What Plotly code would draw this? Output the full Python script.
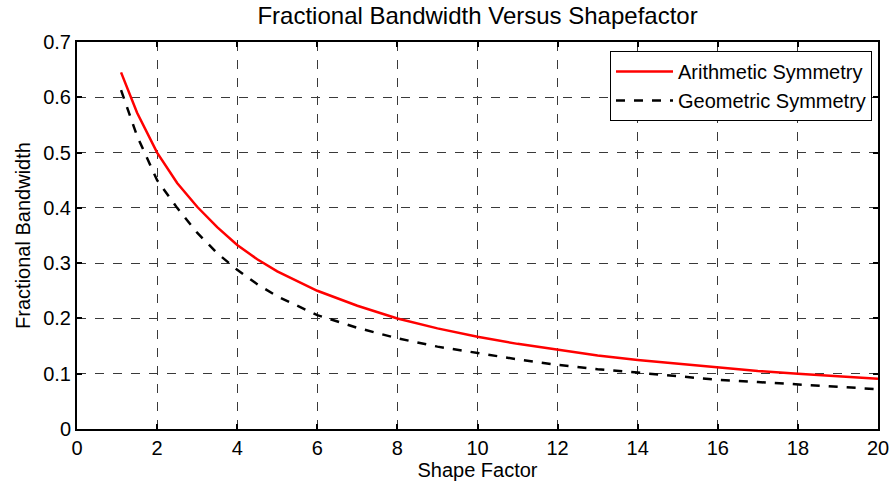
import plotly.graph_objects as go

shape_factor = [1.1, 1.5, 2, 2.5, 3, 3.5, 4, 4.5, 5, 6, 7, 8, 9, 10, 11, 12, 13, 14, 15, 16, 17, 18, 19, 20]
arithmetic = [0.645, 0.572, 0.500, 0.445, 0.402, 0.365, 0.333, 0.307, 0.285, 0.250, 0.223, 0.200, 0.182,
              0.167, 0.154, 0.143, 0.133, 0.125, 0.118, 0.111, 0.105, 0.100, 0.095, 0.091]
geometric = [0.613, 0.530, 0.450, 0.400, 0.355, 0.318, 0.288, 0.262, 0.240, 0.206, 0.183, 0.164, 0.149,
             0.137, 0.126, 0.116, 0.108, 0.102, 0.095, 0.089, 0.085, 0.081, 0.076, 0.072]

x_ticks = list(range(0, 21, 2))
y_ticks = [0, 0.1, 0.2, 0.3, 0.4, 0.5, 0.6, 0.7]
y_tick_text = ["0", "0.1", "0.2", "0.3", "0.4", "0.5", "0.6", "0.7"]

FONT = "Liberation Sans, Arial, sans-serif"

fig = go.Figure()
fig.add_trace(go.Scatter(x=shape_factor, y=arithmetic, mode="lines", name="Arithmetic Symmetry",
                         line=dict(color="#ff0000", width=2.5)))
fig.add_trace(go.Scatter(x=shape_factor, y=geometric, mode="lines", name="Geometric Symmetry",
                         line=dict(color="#000000", width=2.5, dash="dash")))

axis_common = dict(
    showline=True, linecolor="black", linewidth=2, mirror="allticks",
    ticks="inside", ticklen=5, tickwidth=2, tickcolor="black",
    showgrid=True, gridcolor="#3a3a3a", gridwidth=1, griddash="dash",
    zeroline=False, automargin=False,
    tickfont=dict(family=FONT, size=20, color="black"),
)

fig.update_layout(
    width=891, height=482,
    margin=dict(l=77, r=13, t=42, b=53),
    paper_bgcolor="white", plot_bgcolor="white",
    title=dict(text="Fractional Bandwidth Versus Shapefactor", x=0.536, xanchor="center",
               y=0.967, yanchor="middle", font=dict(family=FONT, size=24, color="black")),
    xaxis=dict(range=[0, 20], tickvals=x_ticks, ticktext=[str(v) for v in x_ticks],
               title=dict(text="Shape Factor", font=dict(family=FONT, size=20, color="black"), standoff=0),
               **axis_common),
    yaxis=dict(range=[0, 0.7], tickvals=y_ticks, ticktext=y_tick_text,
               title=dict(text="Fractional Bandwidth", font=dict(family=FONT, size=20, color="black"), standoff=7),
               **axis_common),
    legend=dict(x=0.9925, y=0.977, xanchor="right", yanchor="top", bgcolor="white",
                bordercolor="black", borderwidth=1, font=dict(family=FONT, size=20, color="black"),
                tracegroupgap=0, itemwidth=57),
    showlegend=True,
)

fig.write_html("out.html")
